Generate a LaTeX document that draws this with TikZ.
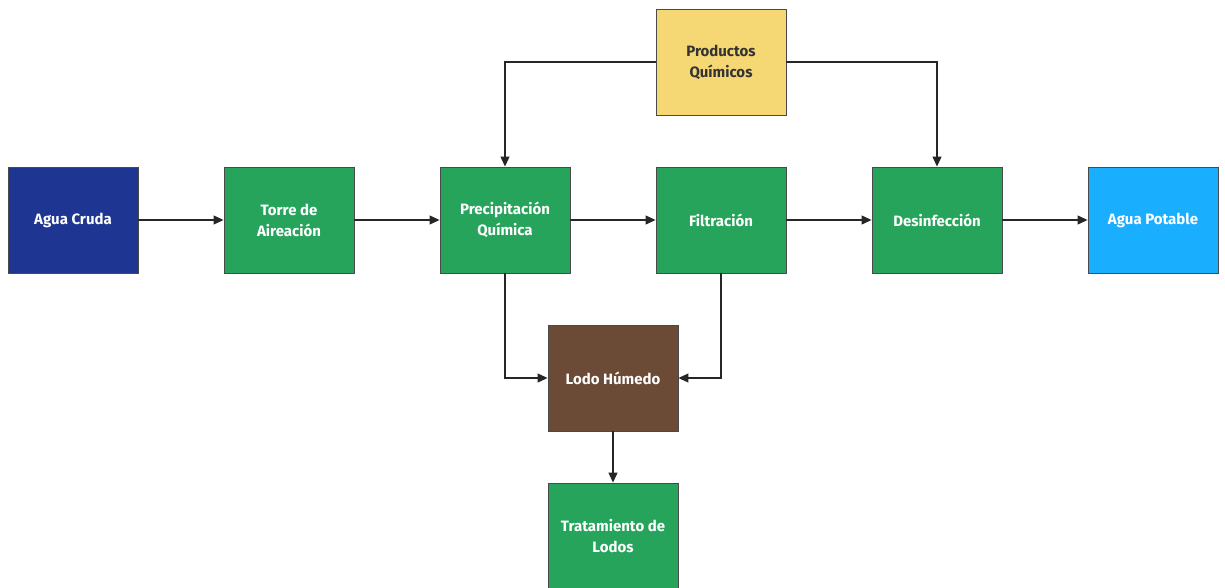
\documentclass[tikz,border=0pt]{standalone}
\usepackage{fontspec}
\setmainfont{Fira Sans}
\usetikzlibrary{arrows.meta}
\definecolor{cblue}{HTML}{1E3692}
\definecolor{cgreen}{HTML}{27A45B}
\definecolor{cbrown}{HTML}{6B4A36}
\definecolor{cyellow}{HTML}{F5D774}
\definecolor{clight}{HTML}{1AAEFF}
\definecolor{cborder}{HTML}{4A4A4A}
\definecolor{ctext}{HTML}{333333}
\begin{document}
\begin{tikzpicture}[x=1pt,y=-1pt,
  box/.style={draw=cborder,line width=0.9pt,minimum width=130pt,minimum height=106pt,
    inner sep=0pt,align=center,text=white,font=\fontsize{15}{21}\selectfont\bfseries},
  conn/.style={draw=black!85,line width=1.1pt,-{Triangle[length=10pt,width=9pt]}}]
\useasboundingbox (0,0) rectangle (1225,587);
\node[box,fill=cblue] (cruda) at (73,220) {Agua Cruda};
\node[box,fill=cgreen] (torre) at (289,220) {Torre de\\Aireación};
\node[box,fill=cgreen] (precip) at (505,220) {Precipitación\\Química};
\node[box,fill=cgreen] (filtr) at (721,220) {Filtración};
\node[box,fill=cgreen] (desinf) at (937,220) {Desinfección};
\node[box,fill=clight] (potable) at (1153,220) {Agua Potable};
\node[box,fill=cyellow,text=ctext] (prod) at (721,62) {Productos\\Químicos};
\node[box,fill=cbrown] (lodo) at (613,378) {Lodo Húmedo};
\node[box,fill=cgreen] (trat) at (613,536) {Tratamiento de\\Lodos};
\draw[conn] (cruda) -- (torre);
\draw[conn] (torre) -- (precip);
\draw[conn] (precip) -- (filtr);
\draw[conn] (filtr) -- (desinf);
\draw[conn] (desinf) -- (potable);
\draw[conn] (prod.west) -| (precip.north);
\draw[conn] (prod.east) -| (desinf.north);
\draw[conn] (precip.south) |- (lodo.west);
\draw[conn] (filtr.south) |- (lodo.east);
\draw[conn] (lodo) -- (trat);
\end{tikzpicture}
\end{document}
